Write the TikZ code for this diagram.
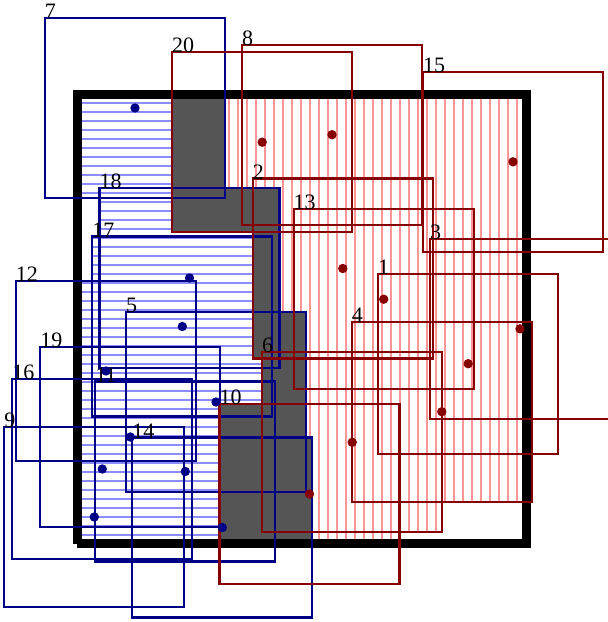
\documentclass[tikz,border=0pt]{standalone}
\usepackage{fontspec}
\setmainfont{Liberation Serif}
\definecolor{bdark}{RGB}{0,0,135}
\definecolor{rdark}{RGB}{135,0,0}
\definecolor{bhatch}{RGB}{140,140,255}
\definecolor{rhatch}{RGB}{255,150,150}
\definecolor{conflict}{RGB}{85,85,85}
\def\bluecenters{135/108, 189.5/278, 182.3/326.5, 106/371, 216/402, 130.3/437, 102.3/469, 185.3/471.5, 94.3/517, 222.3/527.5}
\def\redcenters{262.2/142.2, 332/134.7, 513/161.8, 342.8/268.5, 383.7/299.2, 520/328.8, 468.2/363.7, 441.8/411.7, 352.2/442.3, 309.5/494}
\begin{document}
\begin{tikzpicture}[x=1pt,y=-1pt,
  box/.style={line width=2.2pt, minimum width=180pt, minimum height=180pt, inner sep=0pt, outer sep=0pt},
  bbox/.style={box, draw=bdark},
  rbox/.style={box, draw=rdark},
  lab/.style={anchor=base west, inner sep=0pt, outer sep=0pt, font=\fontsize{22}{22}\selectfont},
  bhl/.style={draw=bhatch, line width=2pt},
  rhl/.style={draw=rhatch, line width=2pt}]
\useasboundingbox (0,0) rectangle (608,622);
\fill[white] (0,0) rectangle (608,622);
% regions inside the frame
\begin{scope}
  \clip (77.2,94.5) rectangle (526,543.5);
  \begin{scope}
    \clip foreach \cx/\cy in \bluecenters { (\cx-90,\cy-90) rectangle (\cx+90,\cy+90) };
    \foreach \k in {-1,...,50} \draw[bhl] (60,103.3+9*\k) -- (560,103.3+9*\k);
  \end{scope}
  \begin{scope}
    \clip foreach \cx/\cy in \redcenters { (\cx-90,\cy-90) rectangle (\cx+90,\cy+90) };
    \foreach \k in {-1,...,52} \draw[rhl] (85+9*\k,80) -- (85+9*\k,560);
  \end{scope}
  \begin{scope}
    \clip foreach \cx/\cy in \bluecenters { (\cx-90,\cy-90) rectangle (\cx+90,\cy+90) };
    \fill[conflict] foreach \cx/\cy in \redcenters { (\cx-90,\cy-90) rectangle (\cx+90,\cy+90) };
  \end{scope}
\end{scope}
% frame
\draw[line width=9pt] (77.2,543.5) -- (77.2,94.5) -- (526,94.5) -- (526,543.5) -- (77.2,543.5);
% blue boxes
\node[bbox] (b7)  at (135,108) {};
\node[bbox] (b18) at (189.5,278) {};
\node[bbox] (b17) at (182.3,326.5) {};
\node[bbox] (b12) at (106,371) {};
\node[bbox] (b5)  at (216,402) {};
\node[bbox] (b19) at (130.3,437) {};
\node[bbox] (b16) at (102.3,469) {};
\node[bbox] (b11) at (185.3,471.5) {};
\node[bbox] (b9)  at (94.3,517) {};
\node[bbox] (b14) at (222.3,527.5) {};
% red boxes
\node[rbox] (r20) at (262.2,142.2) {};
\node[rbox] (r8)  at (332,134.7) {};
\node[rbox] (r15) at (513,161.8) {};
\node[rbox] (r2)  at (342.8,268.5) {};
\node[rbox] (r13) at (383.7,299.2) {};
\node[rbox] (r3)  at (520,328.8) {};
\node[rbox] (r1)  at (468.2,363.7) {};
\node[rbox] (r4)  at (441.8,411.7) {};
\node[rbox] (r6)  at (352.2,442.3) {};
\node[rbox] (r10) at (309.5,494) {};
% labels
\foreach \n in {7,18,17,12,5,19,16,11,9,14}
  \node[lab] (lb\n) at ([yshift=-0.5pt]b\n.north west) {\n};
\foreach \n in {20,8,15,2,13,3,1,4,6,10}
  \node[lab] (lr\n) at ([yshift=-0.5pt]r\n.north west) {\n};
% centre dots
\foreach \n in {7,18,17,12,5,19,16,11,9,14}
  \fill[bdark] (b\n.center) circle (4.7pt);
\foreach \n in {20,8,15,2,13,3,1,4,6,10}
  \fill[rdark] (r\n.center) circle (4.7pt);
\end{tikzpicture}
\end{document}
